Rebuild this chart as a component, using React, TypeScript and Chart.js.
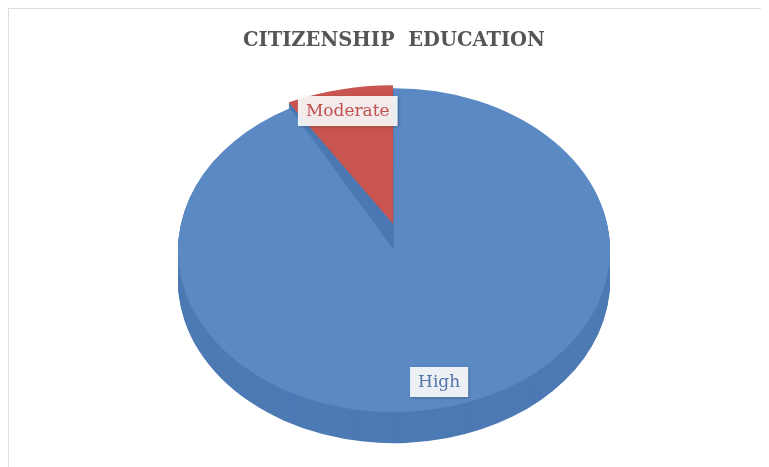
import { useEffect, useRef } from "react";
import { Chart, registerables } from "chart.js";

Chart.register(...registerables);

const TITLE = "CITIZENSHIP  EDUCATION";
const categories = ["High", "Moderate"];
const values = [92, 8];
const explode = [0, 12];
const faceColors = ["#5a89c3", "#c8554f"];
const sideColors = ["#4d7ab4", "#4b78b2"];
const labelColors = ["#5474aa", "#bf504c"];

const TILT = 0.75;
const DEPTH = 31;
const BACK_SQUASH = 0.85;
const LABEL_FRACTION = 0.84;

function ellipseTransform(ctx: CanvasRenderingContext2D, cx: number, cy: number, r: number, dy: number, exploded: boolean) {
  if (exploded) {
    const backY = cy - r * TILT;
    ctx.translate(0, backY);
    ctx.scale(1, BACK_SQUASH);
    ctx.translate(0, -backY);
  }
  ctx.translate(cx, cy + dy);
  ctx.scale(1, TILT);
  ctx.translate(-cx, -cy);
}

function drawArc(ctx: CanvasRenderingContext2D, arc: any, patch: any) {
  const saved = arc.options;
  arc.options = { ...saved, ...patch };
  arc.draw(ctx);
  arc.options = saved;
}

const pie3d = {
  id: "pie3d",
  beforeDatasetsDraw(chart: any) {
    const ctx: CanvasRenderingContext2D = chart.ctx;
    const arcs = chart.getDatasetMeta(0).data;
    if (!arcs.length) return;
    const cx = arcs[0].x;
    const cy = arcs[0].y;
    const r = arcs[0].outerRadius;
    const isExploded = (arc: any) => (arc.options.offset || 0) > 0;
    // sides
    for (let d = DEPTH; d >= 1; d--) {
      arcs.forEach((arc: any, i: number) => {
        ctx.save();
        ellipseTransform(ctx, cx, cy, r, d, isExploded(arc));
        drawArc(ctx, arc, { backgroundColor: sideColors[i], borderWidth: 0 });
        ctx.restore();
      });
    }
    // cut faces left visible where exploded slices were pulled out
    arcs.forEach((arc: any, i: number) => {
      if (!isExploded(arc)) return;
      ctx.save();
      ellipseTransform(ctx, cx, cy, r, 0, false);
      drawArc(ctx, arc, { backgroundColor: sideColors[i], borderWidth: 0, offset: 0 });
      ctx.restore();
    });
    // top faces: body first, exploded slices on top
    const order = [...arcs.filter((a: any) => !isExploded(a)), ...arcs.filter((a: any) => isExploded(a))];
    order.forEach((arc: any) => {
      ctx.save();
      ellipseTransform(ctx, cx, cy, r, 0, isExploded(arc));
      arc.draw(ctx);
      ctx.restore();
    });
    return false;
  },
};

const pieLabels = {
  id: "pieLabels",
  afterDraw(chart: any) {
    const ctx: CanvasRenderingContext2D = chart.ctx;
    const arcs = chart.getDatasetMeta(0).data;
    arcs.forEach((arc: any, i: number) => {
      const { x, y, startAngle, endAngle, outerRadius, circumference } = arc;
      const mid = (startAngle + endAngle) / 2;
      const off = (arc.options.offset || 0) / 4;
      const fix = 1 - Math.sin(Math.min(Math.PI, circumference || 0));
      const shift = off * (1 + fix);
      const rr = outerRadius * LABEL_FRACTION + shift;
      const lx = x + Math.cos(mid) * rr;
      let ly = y + Math.sin(mid) * rr * TILT;
      if (off > 0) {
        const backY = y - outerRadius * TILT;
        ly = backY + (ly - backY) * BACK_SQUASH;
      }
      const text = categories[i];
      ctx.save();
      ctx.font = "17px 'DejaVu Serif'";
      const w = ctx.measureText(text).width + 16;
      const h = 30;
      ctx.shadowColor = "rgba(0,0,0,0.35)";
      ctx.shadowBlur = 3;
      ctx.shadowOffsetX = 1;
      ctx.shadowOffsetY = 1;
      ctx.fillStyle = "rgba(255,255,255,0.9)";
      ctx.fillRect(lx - w / 2, ly - h / 2, w, h);
      ctx.shadowColor = "transparent";
      ctx.fillStyle = labelColors[i];
      ctx.textAlign = "center";
      ctx.textBaseline = "middle";
      ctx.fillText(text, lx, ly + 1);
      ctx.restore();
    });
  },
};

export default function App() {
  const ref = useRef<HTMLCanvasElement | null>(null);
  useEffect(() => {
    if (!ref.current) return;
    const chart = new Chart(ref.current, {
      type: "pie",
      data: {
        labels: categories,
        datasets: [
          {
            data: values,
            backgroundColor: faceColors,
            borderWidth: 0,
            offset: explode,
            clip: false as any,
          },
        ],
      },
      options: {
        responsive: false,
        animation: false,
        devicePixelRatio: 1,
        radius: 216,
        layout: { padding: { left: 10, right: 0, top: 0, bottom: 29 } },
        plugins: {
          legend: { display: false },
          tooltip: { enabled: false },
          title: {
            display: true,
            text: TITLE,
            color: "#555555",
            font: { family: "'DejaVu Serif'", size: 19.5, weight: "bold", lineHeight: 1.2 },
            padding: { top: 20, bottom: 10 },
          },
        },
      } as any,
      plugins: [pie3d, pieLabels],
    });
    return () => chart.destroy();
  }, []);
  return (
    <div
      style={{
        width: 760,
        height: 458,
        borderLeft: "1px solid #dedede",
        borderTop: "1px solid #dedede",
        background: "#fff",
      }}
    >
      <canvas ref={ref} width={760} height={458} style={{ width: 760, height: 458, display: "block" }} />
    </div>
  );
}
